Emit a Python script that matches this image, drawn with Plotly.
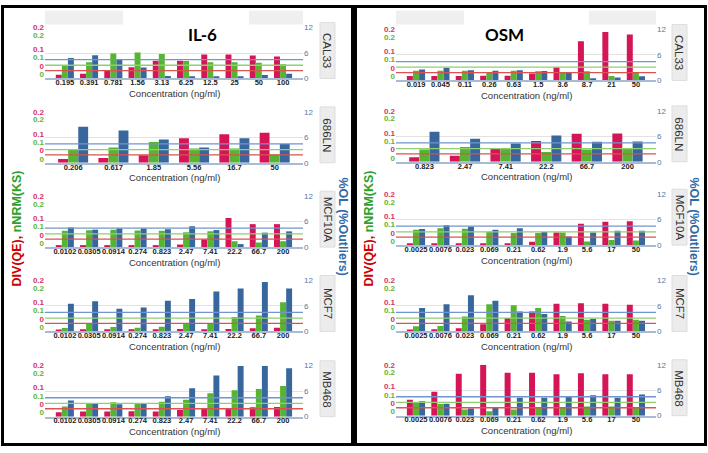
import plotly.graph_objects as go

W, H = 708, 453

# ---------------- data ----------------
cell_lines = ["CAL33", "686LN", "MCF10A", "MCF7", "MB468"]
treatments = ["IL-6", "OSM"]

# IL-6
il6_cal33_conc = ["0.195", "0.391", "0.781", "1.56", "3.13", "6.25", "12.5", "25", "50", "100"]
il6_cal33_div = [0.015, 0.019, 0.031, 0.044, 0.070, 0.070, 0.094, 0.094, 0.090, 0.086]
il6_cal33_nnrm = [0.051, 0.064, 0.098, 0.102, 0.096, 0.069, 0.064, 0.064, 0.062, 0.056]
il6_cal33_ol = [4.8, 5.5, 4.4, 2.6, 0.6, 0.5, 0.5, 0.5, 0.8, 1.1]

il6_686ln_conc = ["0.206", "0.617", "1.85", "5.56", "16.7", "50"]
il6_686ln_div = [0.015, 0.019, 0.030, 0.096, 0.112, 0.118]
il6_686ln_nnrm = [0.050, 0.060, 0.082, 0.056, 0.056, 0.032]
il6_686ln_ol = [8.5, 7.6, 5.5, 3.6, 5.8, 4.4]

il6_mcf10a_conc = ["0.0102", "0.0305", "0.0914", "0.274", "0.823", "2.47", "7.41", "22.2", "66.7", "200"]
il6_mcf10a_div = [0.005, 0.005, 0.005, 0.005, 0.005, 0.010, 0.030, 0.114, 0.090, 0.090]
il6_mcf10a_nnrm = [0.064, 0.066, 0.068, 0.065, 0.064, 0.058, 0.062, 0.023, 0.018, 0.023]
il6_mcf10a_ol = [4.6, 4.1, 4.4, 4.4, 4.2, 4.9, 4.0, 0.7, 3.4, 3.7]

il6_mcf7_conc = ["0.0102", "0.0305", "0.0914", "0.274", "0.823", "2.47", "7.41", "22.2", "66.7", "200"]
il6_mcf7_div = [0.007, 0.008, 0.008, 0.008, 0.008, 0.009, 0.008, 0.009, 0.012, 0.014]
il6_mcf7_nnrm = [0.013, 0.029, 0.017, 0.014, 0.018, 0.029, 0.033, 0.056, 0.062, 0.114]
il6_mcf7_ol = [6.5, 7.1, 5.3, 5.6, 7.2, 7.6, 9.4, 10.1, 11.6, 10.1]

il6_mb468_conc = ["0.0102", "0.0305", "0.0914", "0.274", "0.823", "2.47", "7.41", "22.2", "66.7", "200"]
il6_mb468_div = [0.017, 0.020, 0.020, 0.021, 0.020, 0.026, 0.032, 0.034, 0.037, 0.038]
il6_mb468_nnrm = [0.040, 0.050, 0.056, 0.052, 0.058, 0.066, 0.092, 0.104, 0.108, 0.120]
il6_mb468_ol = [3.8, 3.0, 2.9, 3.2, 4.8, 6.7, 9.7, 11.9, 12.0, 11.4]

# OSM
osm_cal33_conc = ["0.019", "0.045", "0.11", "0.26", "0.63", "1.5", "3.6", "8.7", "21", "50"]
osm_cal33_div = [0.017, 0.017, 0.017, 0.018, 0.018, 0.027, 0.052, 0.154, 0.190, 0.180]
osm_cal33_nnrm = [0.038, 0.038, 0.038, 0.031, 0.038, 0.036, 0.032, 0.036, 0.017, 0.032]
osm_cal33_ol = [2.6, 3.0, 2.4, 2.3, 2.4, 2.2, 1.8, 0.5, 0.7, 1.0]

osm_686ln_conc = ["0.823", "2.47", "7.41", "22.2", "66.7", "200"]
osm_686ln_div = [0.018, 0.024, 0.054, 0.082, 0.110, 0.111]
osm_686ln_nnrm = [0.048, 0.058, 0.050, 0.038, 0.048, 0.054]
osm_686ln_ol = [7.1, 5.4, 4.3, 6.2, 4.7, 4.8]

osm_mcf10a_conc = ["0.0025", "0.0076", "0.023", "0.069", "0.21", "0.62", "1.9", "5.6", "17", "50"]
osm_mcf10a_div = [0.004, 0.004, 0.004, 0.005, 0.006, 0.013, 0.050, 0.084, 0.092, 0.094]
osm_mcf10a_nnrm = [0.060, 0.066, 0.064, 0.052, 0.048, 0.048, 0.050, 0.014, 0.020, 0.018]
osm_mcf10a_ol = [3.8, 4.7, 4.3, 3.6, 4.0, 3.1, 2.0, 3.0, 3.4, 3.4]

osm_mcf7_conc = ["0.0025", "0.0076", "0.023", "0.069", "0.21", "0.62", "1.9", "5.6", "17", "50"]
osm_mcf7_div = [0.007, 0.008, 0.012, 0.028, 0.052, 0.078, 0.108, 0.110, 0.108, 0.104]
osm_mcf7_nnrm = [0.020, 0.021, 0.058, 0.106, 0.102, 0.092, 0.060, 0.046, 0.042, 0.046]
osm_mcf7_ol = [5.5, 6.4, 8.5, 7.2, 4.7, 4.1, 2.3, 3.0, 2.5, 2.5]

osm_mb468_conc = ["0.0025", "0.0076", "0.023", "0.069", "0.21", "0.62", "1.9", "5.6", "17", "50"]
osm_mb468_div = [0.062, 0.094, 0.164, 0.200, 0.168, 0.168, 0.162, 0.166, 0.162, 0.162]
osm_mb468_nnrm = [0.052, 0.046, 0.024, 0.017, 0.024, 0.032, 0.032, 0.036, 0.036, 0.032]
osm_mb468_ol = [3.4, 2.8, 1.7, 2.0, 4.2, 4.2, 4.6, 4.8, 4.2, 5.0]

# threshold lines
div_threshold = 0.031
nnrm_threshold = 0.052
ol_threshold = 4.45

# left axis tick labels (two colour sets) and right axis ticks
div_tickvals = [0.2, 0.114, 0.048]
div_ticktext = ["0.2", "0.1", "0"]
nnrm_tickvals = [0.17, 0.082, 0.016]
nnrm_ticktext = ["0.2", "0.1", "0"]
ol_tickvals = [0, 6, 12]
ol_ticktext = ["0", "6", "12"]

panels = {
    "IL-6": [
        (il6_cal33_conc, il6_cal33_div, il6_cal33_nnrm, il6_cal33_ol),
        (il6_686ln_conc, il6_686ln_div, il6_686ln_nnrm, il6_686ln_ol),
        (il6_mcf10a_conc, il6_mcf10a_div, il6_mcf10a_nnrm, il6_mcf10a_ol),
        (il6_mcf7_conc, il6_mcf7_div, il6_mcf7_nnrm, il6_mcf7_ol),
        (il6_mb468_conc, il6_mb468_div, il6_mb468_nnrm, il6_mb468_ol),
    ],
    "OSM": [
        (osm_cal33_conc, osm_cal33_div, osm_cal33_nnrm, osm_cal33_ol),
        (osm_686ln_conc, osm_686ln_div, osm_686ln_nnrm, osm_686ln_ol),
        (osm_mcf10a_conc, osm_mcf10a_div, osm_mcf10a_nnrm, osm_mcf10a_ol),
        (osm_mcf7_conc, osm_mcf7_div, osm_mcf7_nnrm, osm_mcf7_ol),
        (osm_mb468_conc, osm_mb468_div, osm_mb468_nnrm, osm_mb468_ol),
    ],
}

# ---------------- styling / layout geometry (px) ----------------
RED = "#d41558"
GREEN = "#55b431"
BLUE = "#37679c"
RED_LINE = "#d9534f"
GREEN_LINE = "#8fcf6f"
BLUE_LINE = "#7096cc"
RED_TXT = "#d6336c"
GREEN_TXT = "#62b534"
BLUE_TXT = "#5577a3"
FONT = "Liberation Sans, Arial, sans-serif"

panel_x = {"IL-6": (45, 303), "OSM": (396, 656)}
panel_tops = {"IL-6": [24, 110, 196, 282, 369], "OSM": [26, 109, 194, 282, 368]}
SPAN = 52
strip_x = {"IL-6": (320, 335), "OSM": (672, 687)}


def px(x):
    return x / W


def py(y):
    return 1 - y / H


fig = go.Figure()
layout = dict(
    width=W, height=H, margin=dict(l=0, r=0, t=0, b=0),
    paper_bgcolor="white", plot_bgcolor="white", showlegend=False,
    barmode="overlay", font=dict(family=FONT),
)
shapes = []
annotations = []

left_vals = div_tickvals + nnrm_tickvals
left_text = [f"<span style='color:{RED_TXT}'>{t}</span>" for t in div_ticktext] + \
            [f"<span style='color:{GREEN_TXT}'>{t}</span>" for t in nnrm_ticktext]

k = 0
for tr in treatments:
    x0, x1 = panel_x[tr]
    for i, (conc, div, nnrm, ol) in enumerate(panels[tr]):
        top = panel_tops[tr][i]
        base = top + SPAN
        n = len(conc)
        xid = "x" if k == 0 else f"x{k+1}"
        yl = f"y{2*k+1}" if k > 0 else "y"
        yr = f"y{2*k+2}"
        xkey = "xaxis" if k == 0 else f"xaxis{k+1}"
        ylkey = "yaxis" if k == 0 else f"yaxis{2*k+1}"
        yrkey = f"yaxis{2*k+2}"
        pad = 0.82 if n > 6 else 0.70

        layout[xkey] = dict(
            domain=[px(x0), px(x1)], anchor=yl, type="category",
            categoryorder="array", categoryarray=conc,
            range=[-pad, n - 1 + pad], showline=True, linecolor="#a9bbd4", linewidth=1.5,
            showgrid=False, zeroline=False, ticks="", tickangle=0, ticklabelstandoff=-4,
            tickfont=dict(size=7.5, color="#222222", family=FONT, weight="bold"),
            fixedrange=True,
        )
        layout[ylkey] = dict(
            domain=[py(base), py(top)], anchor=xid, range=[0, 0.2],
            showgrid=False, zeroline=False, showline=False, ticks="",
            tickmode="array", tickvals=left_vals, ticktext=left_text,
            tickfont=dict(size=8, family=FONT, weight="bold"), fixedrange=True,
        )
        layout[yrkey] = dict(
            overlaying=yl, side="right", anchor=xid, range=[0, 12],
            showgrid=True, gridcolor="#e2e2e2", gridwidth=1, zeroline=False,
            tickmode="array", tickvals=ol_tickvals, ticktext=ol_ticktext,
            tickfont=dict(size=8, color=BLUE_TXT, family=FONT), ticks="",
            fixedrange=True,
        )

        fig.add_trace(go.Bar(x=conc, y=div, xaxis=xid, yaxis=yl, marker_color=RED,
                             marker_line_width=0, width=0.245, offset=-0.375))
        fig.add_trace(go.Bar(x=conc, y=nnrm, xaxis=xid, yaxis=yl, marker_color=GREEN,
                             marker_line_width=0, width=0.245, offset=-0.125))
        fig.add_trace(go.Bar(x=conc, y=ol, xaxis=xid, yaxis=yr, marker_color=BLUE,
                             marker_line_width=0, width=0.245, offset=0.125))

        # threshold lines
        shapes.append(dict(type="line", xref=f"{xid} domain", x0=0, x1=1, yref=yr,
                           y0=ol_threshold, y1=ol_threshold, line=dict(color=BLUE_LINE, width=1.3)))
        shapes.append(dict(type="line", xref=f"{xid} domain", x0=0, x1=1, yref=yl,
                           y0=nnrm_threshold, y1=nnrm_threshold, line=dict(color=GREEN_LINE, width=1.3)))
        shapes.append(dict(type="line", xref=f"{xid} domain", x0=0, x1=1, yref=yl,
                           y0=div_threshold, y1=div_threshold, line=dict(color=RED_LINE, width=1.3)))

        # x axis title
        annotations.append(dict(text="Concentration (ng/ml)", xref="paper", yref="paper",
                                x=px((x0 + x1) / 2), y=py(base + 15.5), showarrow=False,
                                xanchor="center", yanchor="middle",
                                font=dict(size=9.5, color="#333333", family=FONT)))
        # right strip
        sx0, sx1 = strip_x[tr]
        shapes.append(dict(type="rect", xref="paper", yref="paper", x0=px(sx0), x1=px(sx1),
                           y0=py(base), y1=py(top - 5), fillcolor="#ececec",
                           line=dict(color="#dddddd", width=1), layer="below"))
        annotations.append(dict(text=cell_lines[i], xref="paper", yref="paper",
                                x=px((sx0 + sx1) / 2), y=py((top - 5 + base) / 2), showarrow=False,
                                textangle=90, xanchor="center", yanchor="middle",
                                font=dict(size=11.5, color="#333333", family=FONT)))
        k += 1

# top header strips with the treatment titles
header = {"IL-6": [(45, 123), (249, 303)], "OSM": [(396, 464), (589, 656)]}
for tr, segs in header.items():
    for a, b in segs:
        shapes.append(dict(type="rect", xref="paper", yref="paper", x0=px(a), x1=px(b),
                           y0=py(21), y1=py(7), fillcolor="#efefef", line=dict(width=0), layer="below"))
annotations.append(dict(text="<b>IL-6</b>", xref="paper", yref="paper", x=px(186), y=py(18),
                        showarrow=False, font=dict(size=17, color="black", family="Lato, Open Sans, sans-serif")))
annotations.append(dict(text="<b>OSM</b>", xref="paper", yref="paper", x=px(526), y=py(18),
                        showarrow=False, font=dict(size=17, color="black", family="Lato, Open Sans, sans-serif")))

# axis titles
left_title = ("<span style='color:#cc0000'>DIV(QE),</span> "
              "<span style='color:#2ea02c'>nNRM(KS)</span>")
for xc in (17, 369):
    annotations.append(dict(text=left_title, xref="paper", yref="paper", x=px(xc), y=py(229),
                            showarrow=False, textangle=-90, xanchor="center", yanchor="middle",
                            font=dict(size=12.5, family=FONT, weight="bold")))
for xc in (343, 694):
    annotations.append(dict(text="%OL (%Outliers)", xref="paper", yref="paper", x=px(xc), y=py(227),
                            showarrow=False, textangle=90, xanchor="center", yanchor="middle",
                            font=dict(size=12.5, color="#2f6aa6", family=FONT, weight="bold")))

# black frames
for a, b in ((2.5, 352.5), (355.5, 705.5)):
    shapes.append(dict(type="rect", xref="paper", yref="paper", x0=px(a), x1=px(b),
                       y0=py(449.5), y1=py(2.5), line=dict(color="black", width=3),
                       fillcolor="rgba(0,0,0,0)", layer="above"))

layout["shapes"] = shapes
layout["annotations"] = annotations
fig.update_layout(**layout)
fig.write_html("out.html", config={"displayModeBar": False},
               post_script="document.body.style.margin='0px';")
